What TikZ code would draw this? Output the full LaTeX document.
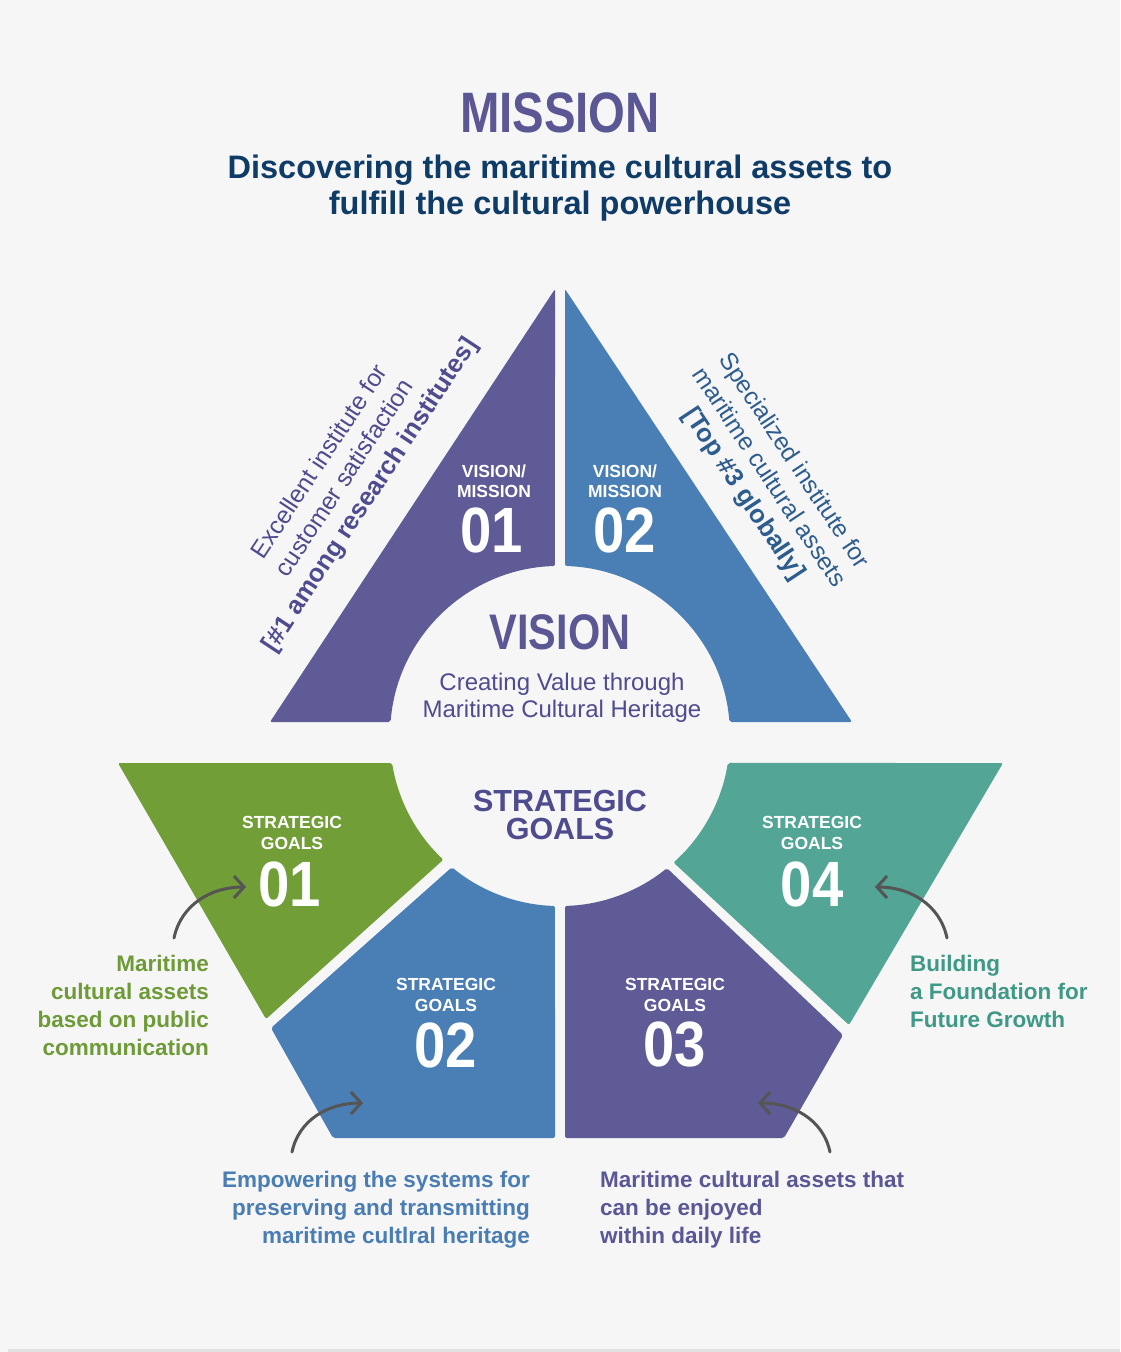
\documentclass[tikz,border=0pt]{standalone}
\usepackage{fontspec}
\usepackage{tikz}
\usepackage{xcolor}
\usetikzlibrary{arrows.meta}
\setmainfont{Liberation Sans}
\newfontfamily\titlefont{Liberation Sans}[FakeStretch=0.83]
\newfontfamily\numfont{Liberation Sans}[FakeStretch=0.88]
\definecolor{bg}{HTML}{F6F6F6}
\definecolor{stripgrey}{HTML}{E2E2E2}
\definecolor{vmpurple}{HTML}{5E5B97}
\definecolor{vmblue}{HTML}{4A7FB5}
\definecolor{sggreen}{HTML}{729E38}
\definecolor{sgteal}{HTML}{53A696}
\definecolor{navy}{HTML}{0F3B67}
\definecolor{headpurple}{HTML}{5A5794}
\definecolor{inkpurple}{HTML}{4E4B8F}
\definecolor{inkblue}{HTML}{2D5C8E}
\definecolor{labgreen}{HTML}{6E9B38}
\definecolor{labteal}{HTML}{3F9987}
\definecolor{labblue}{HTML}{4A7DB3}
\definecolor{labpurple}{HTML}{5A5796}
\definecolor{arrowgrey}{HTML}{555555}
\tikzset{
    piece/.style = {rounded corners=2pt},
    title-text/.style = {text=headpurple, inner sep=0pt, font=\titlefont\bfseries\fontsize{57}{57}\selectfont},
    subtitle-text/.style = {text=navy, align=center, inner sep=0pt, font=\bfseries\fontsize{32.5}{36}\selectfont},
    vision-text/.style = {text=inkpurple, align=center, inner sep=0pt, font=\fontsize{24}{27}\selectfont},
    goals-title/.style = {text=inkpurple, align=center, inner sep=0pt, font=\bfseries\fontsize{30.5}{28}\selectfont},
    piece-head/.style = {text=white, align=center, inner sep=0pt, font=\bfseries\fontsize{17.5}{20.5}\selectfont},
    piece-num/.style = {text=white, inner sep=0pt, font=\numfont\bfseries\fontsize{64}{64}\selectfont},
    side-text/.style = {align=center, inner sep=0pt, font=\fontsize{24.5}{30}\selectfont},
    goal-label/.style = {inner sep=0pt, font=\bfseries\fontsize{22.5}{28}\selectfont},
    goal-arrow/.style = {draw=arrowgrey, line width=3pt, line cap=round, -{Straight Barb[length=10pt,width=22pt]}},
}
\begin{document}
\begin{tikzpicture}[x=1pt, y=1pt]
\fill[bg] (0,0) rectangle (1120,-1352);
\fill[stripgrey] (8,-1349) rectangle (1120,-1352);

\node[title-text] (mission) at (560,-113) {MISSION};
\node[subtitle-text] (mission-text) at (560,-188) {Discovering the maritime cultural assets to\\fulfill the cultural powerhouse};

\fill[piece, vmpurple] (555,-289) -- (270,-722) -- (390.6,-722) arc[start angle=175.3, end angle=91.7, radius=170] -- cycle;
\fill[piece, vmblue] (565,-289) -- (852,-722) -- (729.4,-722) arc[start angle=4.7, end angle=88.3, radius=170] -- cycle;
\fill[piece, sggreen] (118,-763) -- (392.1,-763) arc[start angle=189.14, end angle=226.7, radius=170] -- (266,-1019) -- cycle;
\fill[piece, vmblue] (451.9,-867.2) arc[start angle=230.5, end angle=268.3, radius=170] -- (555,-1138) -- (333,-1138) -- (271,-1028) -- cycle;
\fill[piece, vmpurple] (565,-1138) -- (565,-905.9) arc[start angle=271.7, end angle=309, radius=170] -- (843,-1035) -- (784,-1138) -- cycle;
\fill[piece, sgteal] (673.5,-862.5) arc[start angle=311.9, end angle=350.86, radius=170] -- (1003,-763) -- (849,-1025) -- cycle;

\node[title-text, font=\titlefont\bfseries\fontsize{50}{50}\selectfont] (vision) at (560,-632) {VISION};
\node[vision-text] (vision-text) at (562,-698) {Creating Value through\\Maritime Cultural Heritage};
\node[goals-title] (goals) at (560,-815) {STRATEGIC\\GOALS};

\node[piece-head] (vm1-head) at (494,-481) {VISION/\\MISSION};
\node[piece-num] (vm1-num) at (492,-530) {01};
\node[piece-head] (vm2-head) at (625,-481) {VISION/\\MISSION};
\node[piece-num] (vm2-num) at (625,-530) {02};

\node[piece-head] (sg1-head) at (292,-833) {STRATEGIC\\GOALS};
\node[piece-num] (sg1-num) at (290,-884) {01};
\node[piece-head] (sg2-head) at (446,-995) {STRATEGIC\\GOALS};
\node[piece-num] (sg2-num) at (446,-1045) {02};
\node[piece-head] (sg3-head) at (675,-995) {STRATEGIC\\GOALS};
\node[piece-num] (sg3-num) at (675,-1045) {03};
\node[piece-head] (sg4-head) at (812,-833) {STRATEGIC\\GOALS};
\node[piece-num] (sg4-num) at (812,-884) {04};

\node[side-text, text=inkpurple, rotate=56.65] (vm1-text) at (346,-479) {Excellent institute for\\customer satisfaction\\{\bfseries\fontsize{25.5}{30}\selectfont [\#1 among research institutes]}};
\node[side-text, text=inkblue, rotate=-56.5] (vm2-text) at (768,-478) {Specialized institute for\\maritime cultural assets\\{\bfseries\fontsize{25.5}{30}\selectfont [Top \#3 globally]}};

\node[goal-label, text=labgreen, align=right, anchor=north east] (sg1-text) at (209,-955) {Maritime\\cultural assets\\based on public\\communication};
\node[goal-label, text=labblue, align=right, anchor=north east] (sg2-text) at (530,-1171) {Empowering the systems for\\preserving and transmitting\\maritime cultlral heritage};
\node[goal-label, text=labpurple, align=left, anchor=north west] (sg3-text) at (600,-1171) {Maritime cultural assets that\\can be enjoyed\\within daily life};
\node[goal-label, text=labteal, align=left, anchor=north west] (sg4-text) at (910,-955) {Building\\a Foundation for\\Future Growth};

\coordinate (sg1-tail) at (174,-938);
\coordinate (sg1-tip) at (246,-887);
\coordinate (sg2-tail) at (292,-1152);
\coordinate (sg2-tip) at (363,-1103);
\coordinate (sg3-tail) at (830,-1152);
\coordinate (sg3-tip) at (758,-1103);
\coordinate (sg4-tail) at (947,-938);
\coordinate (sg4-tip) at (875,-887);
\draw[goal-arrow] (sg1-tail) to[out=78, in=180] (sg1-tip);
\draw[goal-arrow] (sg2-tail) to[out=78, in=180] (sg2-tip);
\draw[goal-arrow] (sg3-tail) to[out=102, in=0] (sg3-tip);
\draw[goal-arrow] (sg4-tail) to[out=102, in=0] (sg4-tip);
\end{tikzpicture}
\end{document}
